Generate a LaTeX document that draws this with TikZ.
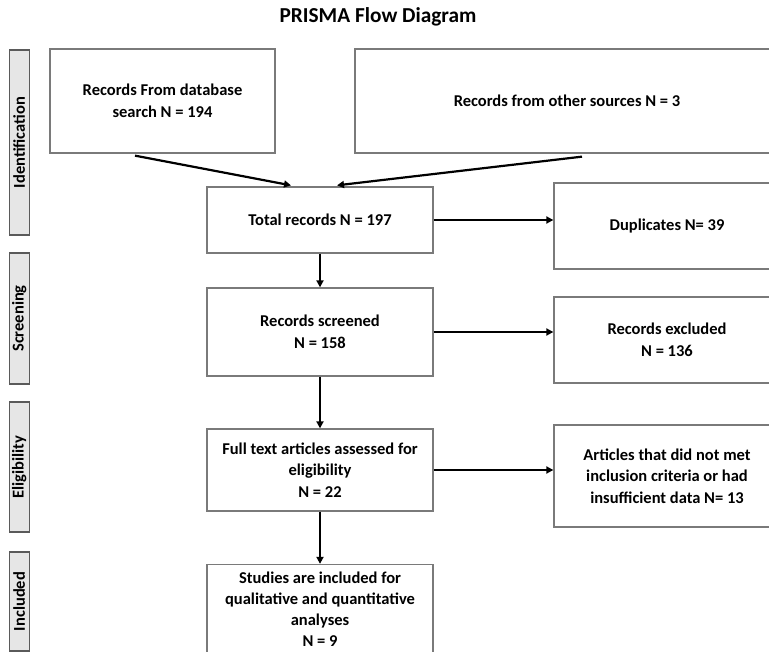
\documentclass[tikz,border=0pt]{standalone}
\usepackage{fontspec}
\setmainfont{Carlito}
\usetikzlibrary{arrows.meta,calc}
\definecolor{boxline}{HTML}{7A7A7A}
\definecolor{sidefill}{HTML}{E6E6E6}
\definecolor{sideline}{HTML}{5A5A5A}
\begin{document}
\begin{tikzpicture}[x=1pt,y=-1pt,
  box/.style={draw=boxline,line width=1.3pt,fill=white,rectangle,inner sep=0pt,align=center,font=\bfseries\fontsize{16.5}{21.7}\selectfont},
  side/.style={draw=sideline,line width=1.2pt,fill=sidefill,rotate=90,inner sep=0pt,minimum height=20pt,font=\bfseries\fontsize{16.5}{20}\selectfont},
  arr/.style={draw=black,line width=2.2pt,-{Triangle[length=7pt,width=7pt]}}]
\useasboundingbox (0,0) rectangle (769,652);
\clip (0,0) rectangle (769,652);
\fill[white] (0,0) rectangle (769,652);

\node[font=\bfseries\fontsize{21.3}{24}\selectfont] (title) at (378,17) {PRISMA Flow Diagram};

\node[side,minimum width=185pt] (sid) at (19.2,142.5) {Identification};
\node[side,minimum width=131pt] (sscr) at (19.2,318.5) {Screening};
\node[side,minimum width=130pt] (sel) at (19.2,467) {Eligibility};
\node[side,minimum width=99pt] (sinc) at (19.2,601.5) {Included};

\node[box,minimum width=225pt,minimum height=104pt] (db) at (162.5,101) {Records From database\\search N = 194};
\node[box,minimum width=424pt,minimum height=104pt] (other) at (567,101) {Records from other sources N = 3};
\node[box,minimum width=226pt,minimum height=66pt] (total) at (320,220) {Total records N = 197};
\node[box,minimum width=226pt,minimum height=86pt] (dup) at (667,226) {Duplicates N= 39};
\node[box,minimum width=226pt,minimum height=88pt] (scr) at (320,332) {Records screened\\N = 158};
\node[box,minimum width=226pt,minimum height=86pt] (excl) at (667,340) {Records excluded\\N = 136};
\node[box,minimum width=226pt,minimum height=82pt] (full) at (320,470) {Full text articles assessed for\\eligibility\\N = 22};
\node[box,minimum width=226pt,minimum height=102pt] (art) at (667,476) {Articles that did not met\\inclusion criteria or had\\insufficient data N= 13};
\node[box,minimum width=226pt,minimum height=89pt,font=\bfseries\fontsize{16.5}{21}\selectfont] (stud) at (320,609) {Studies are included for\\qualitative and quantitative\\analyses\\N = 9};

\draw[arr] ($(db.south)+(-27.5,2)$) -- ($(total.north)+(-29,-1)$);
\draw[arr] ($(other.south)+(15,3)$) -- ($(total.north)+(17,-1)$);
\draw[arr] (total.east) -- (total.east -| dup.west);
\draw[arr] (total.south) -- (scr.north);
\draw[arr] (scr.east) -- (scr.east -| excl.west);
\draw[arr] (scr.south) -- (full.north);
\draw[arr] (full.east) -- (full.east -| art.west);
\draw[arr] (full.south) -- (stud.north);
\end{tikzpicture}
\end{document}
